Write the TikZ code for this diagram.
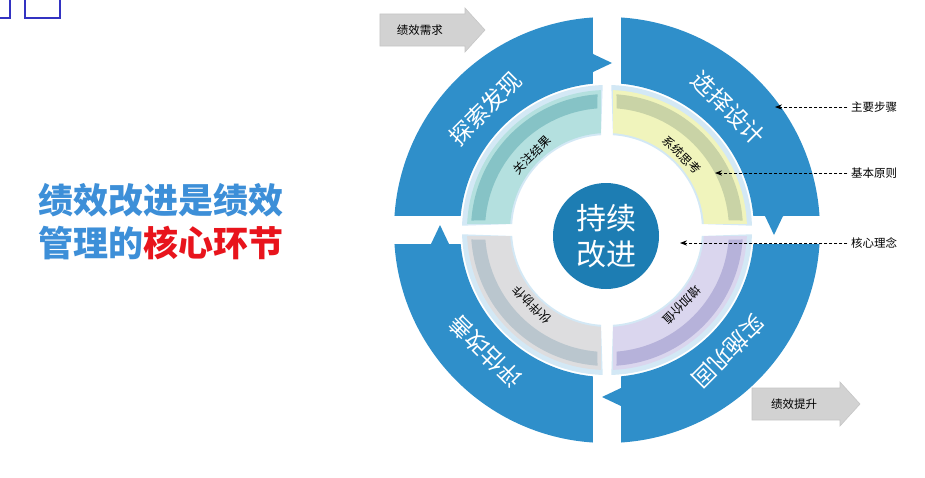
\documentclass[tikz,border=0pt]{standalone}
\usepackage{fontspec}
\setmainfont{Noto Sans CJK SC}
\usetikzlibrary{arrows.meta}
\definecolor{ringblue}{HTML}{2F8FCA}
\definecolor{coreblue}{HTML}{1D7DB3}
\definecolor{edgeblue}{HTML}{D3E8F5}
\definecolor{titleblue}{HTML}{3D8FD8}
\definecolor{titlered}{HTML}{E8141C}
\definecolor{tealA}{HTML}{B4E0DF}\definecolor{tealB}{HTML}{86C3C6}
\definecolor{yelA}{HTML}{F0F4BC}\definecolor{yelB}{HTML}{C9D3A6}
\definecolor{lavA}{HTML}{DAD6EE}\definecolor{lavB}{HTML}{B6B2DA}
\definecolor{grayA}{HTML}{DDDDDF}\definecolor{grayB}{HTML}{BAC6CE}
\tikzset{
  steplabel/.style={text=white, font=\fontsize{23}{23}\selectfont},
  ideallabel/.style={text=black, font=\fontsize{12}{12}\selectfont},
  notelabel/.style={text=black, font=\fontsize{11.5}{11.5}\selectfont},
  notearrow/.style={densely dashed, thick, -{Stealth[length=7pt]}},
  grayarrow/.style={fill=gray!35, draw=gray!45, line width=0.6pt}
}
\begin{document}
\begin{tikzpicture}[x=1pt,y=1pt]
  \useasboundingbox (-607,230) rectangle (318,-247);
  \fill[white] (-607,230) rectangle (318,-247);

  % corner boxes
  \draw[blue!70!black!80, line width=2pt] (-612,232) rectangle (-597,212);
  \draw[blue!70!black!80, line width=2pt] (-582,232) rectangle (-547,212);

  % title
  \node (t1) at (-446,30) {\fontsize{35}{35}\selectfont\bfseries\color{titleblue}绩效改进是绩效};
  \node (t2) at (-446,-13) {\fontsize{35}{35}\selectfont\bfseries\color{titleblue}管理的\color{titlered}核心环节};

  % four quarters
  \foreach \rot/\ca/\cb/\big/\small in {0/tealA/tealB/探索发现/关注结果,
      -90/yelA/yelB/选择设计/系统思考,
      -180/lavA/lavB/实施巩固/增加价值,
      -270/grayA/grayB/评估改善/伙伴协作}{
    \begin{scope}[rotate=\rot]
      \fill[ringblue] (176.2:213) arc[start angle=176.2, end angle=93.8, radius=213]
        -- (-14,176) -- (5,167) -- (-14,158) -- (95.5:147)
        arc[start angle=95.5, end angle=174.5, radius=147] -- cycle;
      \fill[edgeblue] (178.3:145) arc[start angle=178.3, end angle=91.7, radius=145]
        -- (93.6:95) arc[start angle=93.6, end angle=176.4, radius=95] -- cycle;
      \fill[\ca] (177.5:140) arc[start angle=177.5, end angle=92.5, radius=140]
        -- (93.6:97) arc[start angle=93.6, end angle=176.4, radius=97] -- cycle;
      \fill[\cb] (176:136) arc[start angle=176, end angle=94, radius=136]
        -- (94.5:122) arc[start angle=94.5, end angle=175.5, radius=122] -- cycle;
      \node[steplabel, rotate=\rot+45] at (135:172) {\big};
      \node[ideallabel, rotate=\rot+45] at (135:106) {\small};
    \end{scope}
  }

  % core
  \node[circle, fill=coreblue, minimum size=106pt, inner sep=0pt, text=white,
        align=center, font=\fontsize{30}{36}\selectfont] (core) at (-1,-6) {持续\\改进};

  % gray arrows
  \fill[grayarrow] (-227,216) -- (-142,216) -- (-142,222) -- (-122,200)
    -- (-142,178) -- (-142,184) -- (-227,184) -- cycle;
  \node[notelabel] (need) at (-187,200) {绩效需求};
  \fill[grayarrow] (145,-158) -- (233,-158) -- (233,-152) -- (253,-174)
    -- (233,-196) -- (233,-190) -- (145,-190) -- cycle;
  \node[notelabel] (gain) at (187,-174) {绩效提升};

  % notes
  \node[notelabel] (steps) at (267,123) {主要步骤};
  \node[notelabel] (rules) at (267,57) {基本原则};
  \node[notelabel] (idea) at (267,-13) {核心理念};
  \coordinate (stepsend) at (168,123);
  \coordinate (rulesend) at (108,57);
  \coordinate (ideaend) at (73,-13);
  \draw[notearrow] (steps.west) -- (stepsend);
  \draw[notearrow] (rules.west) -- (rulesend);
  \draw[notearrow] (idea.west) -- (ideaend);
\end{tikzpicture}
\end{document}
